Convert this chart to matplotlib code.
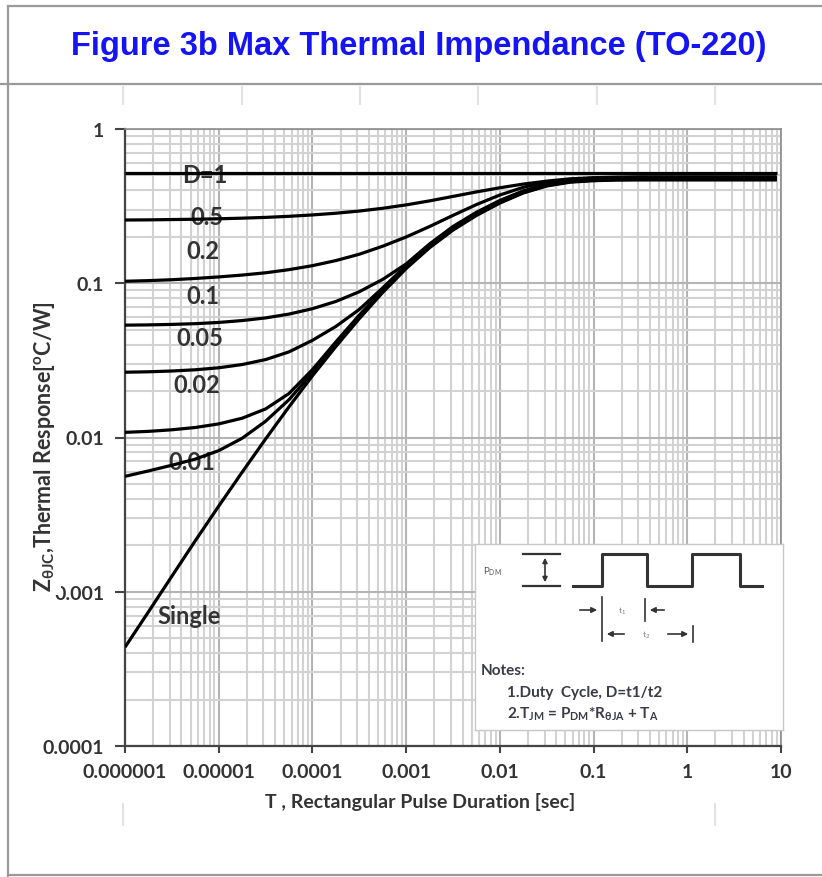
import matplotlib
matplotlib.use("Agg")
import matplotlib.pyplot as plt
from matplotlib.lines import Line2D

# =============================================================================
# Data

pulse_t = [1e-6, 1.78e-6, 3.16e-6, 5.62e-6, 1e-5, 1.78e-5, 3.16e-5, 5.62e-5,
           1e-4, 1.78e-4, 3.16e-4, 5.62e-4, 1e-3, 1.78e-3, 3.16e-3, 5.62e-3,
           1e-2, 1.78e-2, 3.16e-2, 5.62e-2, 0.1, 0.178, 0.316, 0.562, 1, 9]

z_single = [4.37e-4, 7.41e-4, 1.26e-3, 2.14e-3, 3.59e-3, 5.96e-3, 9.77e-3, 0.0158,
            0.0251, 0.0389, 0.0589, 0.0871, 0.1245, 0.170, 0.221, 0.275,
            0.331, 0.385, 0.427, 0.452, 0.462, 0.467, 0.468, 0.468, 0.468, 0.468]
z_d001 = [0.0056, 0.00607, 0.00661, 0.00724, 0.00822, 0.00989, 0.01274, 0.01758,
          0.0263, 0.0403, 0.0605, 0.0887, 0.1262, 0.1718, 0.2234, 0.278,
          0.334, 0.387, 0.430, 0.455, 0.466, 0.469, 0.470, 0.470, 0.470, 0.470]
z_d002 = [0.0108, 0.01096, 0.01122, 0.01161, 0.01225, 0.01334, 0.01531, 0.01928,
          0.02754, 0.04169, 0.0621, 0.0904, 0.1279, 0.1738, 0.2254, 0.2799,
          0.3357, 0.389, 0.4315, 0.4571, 0.4677, 0.471, 0.472, 0.472, 0.472, 0.472]
z_d005 = [0.0265, 0.02667, 0.02698, 0.02748, 0.02831, 0.02972, 0.03199, 0.03589,
          0.04266, 0.0525, 0.0676, 0.0933, 0.1303, 0.1778, 0.2291, 0.2838,
          0.3396, 0.3926, 0.4345, 0.4592, 0.4699, 0.4742, 0.4753, 0.4753, 0.4753, 0.4753]
z_d01 = [0.0535, 0.0537, 0.0541, 0.0547, 0.0557, 0.0573, 0.0596, 0.0631,
         0.0684, 0.0762, 0.0881, 0.1059, 0.1334, 0.1799, 0.2333, 0.2884,
         0.3443, 0.3972, 0.4385, 0.4634, 0.4732, 0.4775, 0.4797, 0.4797, 0.4797, 0.4797]
z_d02 = [0.103, 0.104, 0.1054, 0.1074, 0.1099, 0.113, 0.1169, 0.1225,
         0.13, 0.1403, 0.1542, 0.1738, 0.1995, 0.2333, 0.2754, 0.3236,
         0.3733, 0.4188, 0.4519, 0.471, 0.4808, 0.4842, 0.4853, 0.4853, 0.4853, 0.4853]
z_d05 = [0.257, 0.2576, 0.2588, 0.26, 0.2618, 0.2642, 0.2673, 0.2716,
         0.2773, 0.2844, 0.2938, 0.3062, 0.3221, 0.342, 0.3656, 0.3909,
         0.4159, 0.4395, 0.4592, 0.4753, 0.4831, 0.4875, 0.4898, 0.4898, 0.4898, 0.4898]
d1_t = [1e-6, 9]
z_d1 = [0.52, 0.52]

curve_labels = ["D=1", "0.5", "0.2", "0.1", "0.05", "0.02", "0.01", "Single"]
label_t = [7.1e-6, 7.5e-6, 6.8e-6, 6.8e-6, 6.3e-6, 5.9e-6, 5.2e-6, 4.8e-6]
label_z = [0.51, 0.269, 0.162, 0.0827, 0.0442, 0.0219, 0.00694, 0.000697]

xtick_vals = [1e-6, 1e-5, 1e-4, 1e-3, 1e-2, 1e-1, 1, 10]
xtick_text = ["0.000001", "0.00001", "0.0001", "0.001", "0.01", "0.1", "1", "10"]
ytick_vals = [1e-4, 1e-3, 1e-2, 1e-1, 1]
ytick_text = ["0.0001", "0.001", "0.01", "0.1", "1"]

# =============================================================================
# Figure

plt.rcParams['font.family'] = ['Lato', 'DejaVu Sans']
plt.rcParams['mathtext.default'] = 'regular'

W, H = 822, 878
fig = plt.figure(figsize=(W / 100, H / 100), dpi=100)

def fx(px):
    return px / W

def fy(py):
    return 1 - py / H

# table-like frame lines
for x0, y0, x1, y1 in [(8, 7, 822, 7), (8, 7, 8, 878), (0, 85, 822, 85), (8, 876, 822, 876)]:
    fig.add_artist(Line2D([fx(x0), fx(x1)], [fy(y0), fy(y1)], color='#9a9a9a', lw=1.6))
for x in [123, 242, 360, 478, 597, 715]:
    fig.add_artist(Line2D([fx(x), fx(x)], [fy(88), fy(105)], color='#e2e2e2', lw=1.5))
for x in [123, 715]:
    fig.add_artist(Line2D([fx(x), fx(x)], [fy(805), fy(826)], color='#e2e2e2', lw=1.5))

fig.text(fx(419), fy(47), "Figure 3b Max Thermal Impendance (TO-220)", ha='center', va='center',
         fontsize=23.5, fontweight='bold', color='#1414f5', family=['Liberation Sans', 'DejaVu Sans'])

ax = fig.add_axes([fx(125), fy(747), fx(781 - 125), (747 - 130) / H])
ax.set_xscale('log')
ax.set_yscale('log')
ax.set_xlim(1e-6, 10)
ax.set_ylim(1e-4, 1)

ax.grid(True, which='major', color='#b4b4b4', lw=1.5)
ax.grid(True, which='minor', color='#d2d2d2', lw=1.5)
ax.set_axisbelow(True)

curves = [(d1_t, z_d1), (pulse_t, z_d05), (pulse_t, z_d02), (pulse_t, z_d01),
          (pulse_t, z_d005), (pulse_t, z_d002), (pulse_t, z_d001), (pulse_t, z_single)]
for t, z in curves:
    ax.plot(t, z, color='black', lw=2.3, solid_capstyle='butt', zorder=3)

for lab, t, z in zip(curve_labels, label_t, label_z):
    ax.text(t, z, lab, ha='center', va='center', fontsize=17, fontweight='bold',
            color='#333333', zorder=2.5)

ax.set_xticks(xtick_vals)
ax.set_xticklabels(xtick_text)
ax.set_yticks(ytick_vals)
ax.set_yticklabels(ytick_text)
ax.tick_params(which='minor', length=0)
ax.tick_params(axis='both', which='major', direction='out', color='#444444', width=1.5,
               labelsize=14, labelcolor='#333333')
ax.tick_params(axis='y', length=7, pad=8)
ax.tick_params(axis='x', length=5, pad=7)
for lb in ax.get_xticklabels() + ax.get_yticklabels():
    lb.set_fontweight('bold')

for side in ['top', 'right']:
    ax.spines[side].set_color('#8c8c8c')
    ax.spines[side].set_linewidth(1.2)
for side in ['left', 'bottom']:
    ax.spines[side].set_color('#444444')
    ax.spines[side].set_linewidth(1.6)

ax.set_xlabel("T , Rectangular Pulse Duration [sec]", fontsize=14, fontweight='bold', color='#333333')
ax.xaxis.set_label_coords((420 - 125) / 656, (747 - 793) / 617)
ax.set_ylabel(r"Z$_{\theta JC}$,Thermal Response[$^{o}$C/W]", fontsize=15.5, fontweight='bold',
              color='#333333')
ax.yaxis.set_label_coords((57 - 125) / 656, (747 - 447) / 617)
ax.yaxis.label.set_bbox(dict(facecolor='white', edgecolor='none', pad=3))

# inset with pulse sketch and notes (pixel coordinates)
ins = fig.add_axes([fx(475), fy(731), fx(783 - 475), (731 - 545) / H])
ins.set_xlim(475, 783)
ins.set_ylim(731, 545)
ins.set_xticks([])
ins.set_yticks([])
for s in ins.spines.values():
    s.set_color('#c8c8c8')
    s.set_linewidth(1.0)

dark = '#333333'
ins.plot([573, 602, 602, 647, 647, 692, 692, 740, 740, 762],
         [587, 587, 555, 555, 587, 587, 555, 555, 587, 587], color=dark, lw=2.2)
ins.plot([523, 560], [555, 555], color=dark, lw=1.6)
ins.plot([523, 560], [587, 587], color=dark, lw=1.6)
ins.annotate("", xy=(545, 556), xytext=(545, 586),
             arrowprops=dict(arrowstyle='<|-|>', color=dark, lw=1.2, mutation_scale=7))
ins.text(483, 572, r"P$_{DM}$", fontsize=7, color='#555555', va='center')

ins.plot([602, 602], [598, 642], color=dark, lw=1.2)
ins.plot([645, 645], [600, 622], color=dark, lw=1.2)
ins.plot([693, 693], [627, 643], color=dark, lw=1.2)
arrow = dict(arrowstyle='-|>', color=dark, lw=1.2, mutation_scale=8)
ins.annotate("", xy=(600, 611), xytext=(577, 611), arrowprops=arrow)
ins.annotate("", xy=(647, 611), xytext=(667, 611), arrowprops=arrow)
ins.annotate("", xy=(604, 635), xytext=(627, 635), arrowprops=arrow)
ins.annotate("", xy=(691, 635), xytext=(665, 635), arrowprops=arrow)
ins.text(622, 611, r"t$_1$", fontsize=6, color='#777777', ha='center', va='center')
ins.text(646, 635, r"t$_2$", fontsize=6, color='#777777', ha='center', va='center')

ins.text(481, 671, "Notes:", fontsize=11, fontweight='bold', color='#3a3a48', va='center')
ins.text(507, 693, "1.Duty  Cycle, D=t1/t2", fontsize=11, fontweight='bold', color='#3a3a48',
         va='center')
ins.text(507, 714, r"2.T$_{JM}$ = P$_{DM}$*R$_{\theta JA}$ + T$_A$", fontsize=11,
         fontweight='bold', color='#3a3a48', va='center')

fig.savefig("out.png", dpi=100)
